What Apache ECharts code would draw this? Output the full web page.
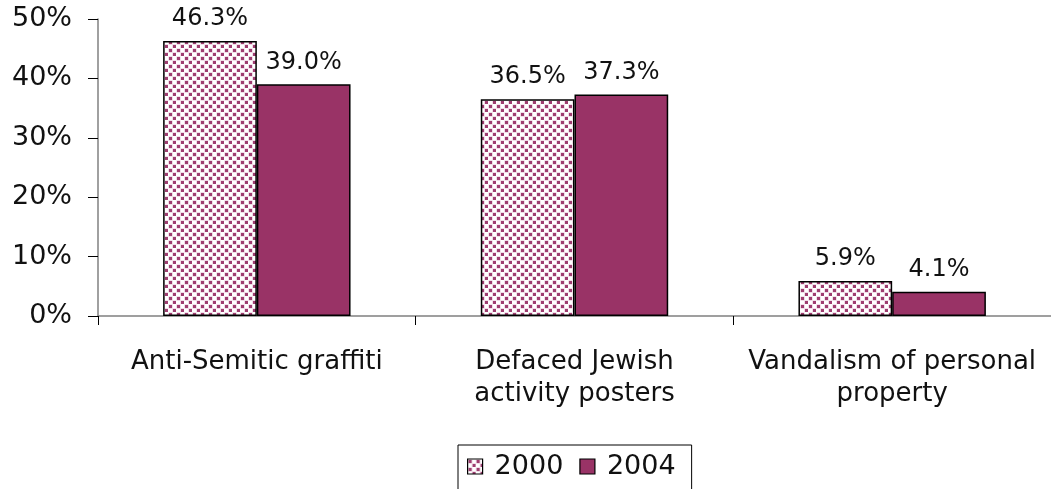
<!DOCTYPE html>
<html><head><meta charset="utf-8">
<script src="https://cdn.jsdelivr.net/npm/echarts@6/dist/echarts.min.js"></script>
<style>html,body{margin:0;padding:0;background:#fff}#c{width:1051px;height:489px}</style>
</head><body><div id="c"></div>
<script>
const categories = ['Anti-Semitic graffiti', 'Defaced Jewish\nactivity posters', 'Vandalism of personal\nproperty'];
const seriesNames = ['2000', '2004'];
const values2000 = [46.3, 36.5, 5.9];
const values2004 = [39.0, 37.3, 4.1];
const yTicks = [0, 10, 20, 30, 40, 50];

const pc = document.createElement('canvas');
pc.width = 8; pc.height = 8;
const g = pc.getContext('2d');
g.fillStyle = '#fff'; g.fillRect(0, 0, 8, 8);
function dot(x, y) {
  g.fillStyle = '#e2bcd0'; g.fillRect(x - 0.5, y - 0.5, 4, 4);
  g.fillStyle = '#9e3d70'; g.fillRect(x, y, 3, 3);
}
dot(1, 1);
dot(5, 5);
const pattern = { image: pc, repeat: 'repeat' };

const font = 'DejaVu Sans';
const chart = echarts.init(document.getElementById('c'));
chart.setOption({
  animation: false,
  textStyle: { fontFamily: font },
  grid: { left: 98, top: 19, width: 962, height: 297, containLabel: false },
  legend: {
    data: seriesNames, left: 458, top: 445, icon: 'rect', itemWidth: 15, itemHeight: 15, itemGap: 16,
    borderColor: '#000', borderWidth: 1, padding: [8, 16, 14, 9],
    textStyle: { fontFamily: font, fontSize: 27, color: '#111', padding: [0, 0, 0, 7] },
    itemStyle: { borderColor: '#000', borderWidth: 1.2 }
  },
  xAxis: {
    type: 'category', data: categories,
    axisLine: { lineStyle: { color: '#808080', width: 1.5 } },
    axisTick: { show: true, interval: 0, length: 9, lineStyle: { color: '#000' } },
    axisLabel: { interval: 0, fontFamily: font, fontSize: 26, color: '#111', margin: 30, lineHeight: 32 }
  },
  yAxis: {
    type: 'value', min: 0, max: 50, interval: 10,
    axisLine: { show: true, lineStyle: { color: '#808080', width: 1.5 } },
    axisTick: { show: true, length: 10, lineStyle: { color: '#000' } },
    splitLine: { show: false },
    axisLabel: { fontFamily: font, fontSize: 27, color: '#111', margin: 26,
      formatter: v => yTicks.includes(v) ? v + '%' : '' }
  },
  series: [
    { name: seriesNames[0], type: 'bar', data: values2000, barGap: '0%', barCategoryGap: '41%',
      itemStyle: { color: pattern, borderColor: '#000', borderWidth: 1.5 },
      label: { show: true, position: 'top', distance: 10, fontFamily: font, fontSize: 24, color: '#111',
        formatter: p => p.value.toFixed(1) + '%' } },
    { name: seriesNames[1], type: 'bar', data: values2004, barGap: '0%', barCategoryGap: '41%',
      itemStyle: { color: '#993366', borderColor: '#000', borderWidth: 1.5 },
      label: { show: true, position: 'top', distance: 10, fontFamily: font, fontSize: 24, color: '#111',
        formatter: p => p.value.toFixed(1) + '%' } }
  ]
});
</script></body></html>
